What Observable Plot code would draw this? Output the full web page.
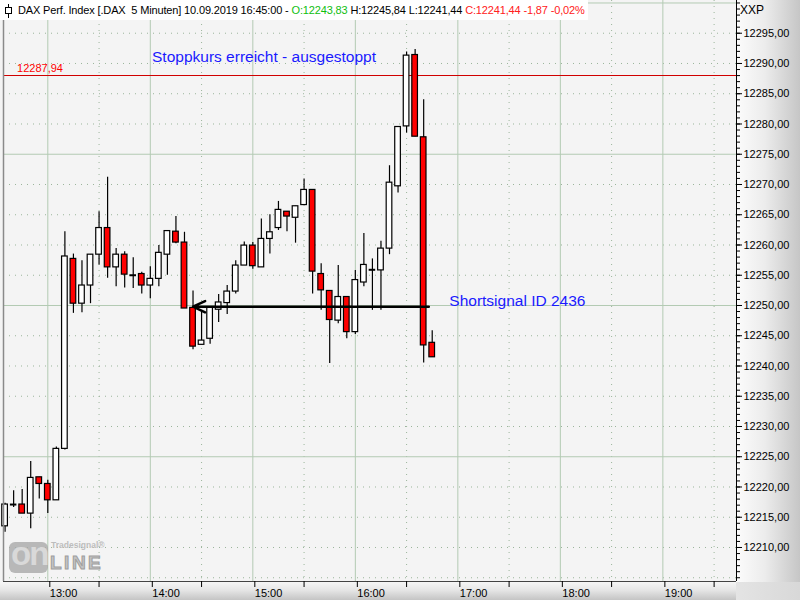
<!DOCTYPE html>
<html><head><meta charset="utf-8">
<script src="https://cdn.jsdelivr.net/npm/d3@7"></script>
<script src="https://cdn.jsdelivr.net/npm/@observablehq/plot@0.6"></script>
<style>
body{margin:0;background:#fff;}
#wrap{position:relative;width:800px;height:600px;overflow:hidden;font-family:"Liberation Sans",Arial,sans-serif;background:#f4f4f4;}
#rightPanel{position:absolute;left:736px;top:0;width:64px;height:582px;background:linear-gradient(to right,#fcfcfc,#ececec 45%,#c6c6c6);}
#bottomPanel{position:absolute;left:0;top:582px;width:736px;height:18px;background:linear-gradient(to bottom,#f6f6f6,#e6e6e6 45%,#c4c4c4);}
#corner{position:absolute;left:736px;top:582px;width:64px;height:18px;background:linear-gradient(to right,#e4e4e4,#d8d8d8);}
#chart{position:absolute;left:0;top:0;}
#header{position:absolute;left:0;top:0;height:20px;background:#fff;font-size:11px;letter-spacing:-0.15px;line-height:20px;white-space:pre;padding-left:18px;padding-right:3px;color:#000;}
#xxp{position:absolute;left:740px;top:3px;font-size:12px;color:#000;}
#icon{position:absolute;left:3px;top:4px;}
#logo{position:absolute;left:9px;top:542px;width:39px;height:31px;background:#a9a9a9;border-radius:6px;opacity:.8;}
#logoOn{position:absolute;left:11px;top:534px;font-size:33px;font-weight:bold;color:#d9d9d9;letter-spacing:-2px;line-height:40px;}
#logoLine{position:absolute;left:50px;top:553px;font-size:19px;font-weight:bold;color:#c4c4c4;letter-spacing:2.5px;line-height:19px;-webkit-text-stroke:1px #9e9e9e;}
#logoTs{position:absolute;left:51px;top:541px;font-size:8.5px;font-weight:bold;color:#bdbdbd;line-height:9px;}
</style></head>
<body>
<div id="wrap">
  <div id="rightPanel"></div>
  <div id="bottomPanel"></div>
  <div id="corner"></div>
  <div id="chart"></div>
  <div id="logo"></div>
  <div id="logoOn">on</div>
  <div id="logoTs">Tradesignal®</div>
  <div id="logoLine">LINE</div>
  <div id="header"></div>
  <svg id="icon" width="12" height="14"><line x1="5.5" y1="0" x2="5.5" y2="14" stroke="#000"/><rect x="2.5" y="3.5" width="6" height="6" fill="#fff" stroke="#000"/></svg>
  <div id="xxp">XXP</div>
</div>
<script>
// ---- data ----
const times = ["12:35","12:40","12:45","12:50","12:55","13:00","13:05","13:10","13:15","13:20","13:25","13:30","13:35","13:40","13:45","13:50","13:55","14:00","14:05","14:10","14:15","14:20","14:25","14:30","14:35","14:40","14:45","14:50","14:55","15:00","15:05","15:10","15:15","15:20","15:25","15:30","15:35","15:40","15:45","15:50","15:55","16:00","16:05","16:10","16:15","16:20","16:25","16:30","16:35","16:40","16:45"];
const opens  = [12213.5,12217.1,12217.1,12215.6,12221.6,12220.5,12217.8,12226.3,12257.7,12250.3,12253.3,12258.4,12262.8,12256.3,12258.4,12255.0,12255.2,12253.3,12254.4,12258.4,12262.2,12260.4,12249.6,12243.5,12244.5,12249.3,12250.4,12252.3,12256.6,12259.9,12256.3,12261.0,12262.8,12265.5,12264.5,12266.6,12269.1,12255.2,12252.4,12247.5,12251.4,12245.6,12253.8,12255.9,12255.8,12259.4,12269.7,12279.6,12291.4,12277.8,12243.83];
const highs  = [12217.3,12219.4,12219.6,12224.2,12221.6,12221.1,12226.6,12262.2,12258.5,12257.4,12258.4,12265.5,12271.2,12259.4,12258.9,12257.9,12255.5,12256.4,12259.9,12262.3,12264.7,12262.1,12252.4,12248.9,12249.6,12251.8,12253.3,12257.4,12260.5,12260.4,12264.3,12265.0,12267.2,12265.5,12266.4,12270.9,12269.1,12256.9,12252.4,12256.6,12251.4,12255.8,12261.9,12257.7,12260.6,12273.1,12279.5,12291.9,12292.3,12284.0,12245.84];
const lows   = [12212.5,12216.6,12215.6,12213.1,12218.0,12215.6,12217.8,12226.1,12248.7,12248.8,12250.3,12256.7,12254.5,12253.1,12252.9,12252.8,12251.9,12251.1,12253.1,12255.0,12260.2,12249.5,12242.7,12243.5,12243.6,12247.2,12248.5,12251.9,12256.6,12256.0,12256.3,12258.5,12262.4,12262.2,12260.3,12266.5,12251.9,12249.2,12240.4,12247.0,12244.5,12245.2,12253.1,12249.2,12249.2,12258.4,12268.6,12278.5,12277.9,12240.5,12241.44];
const closes = [12217.1,12217.1,12215.6,12221.5,12220.5,12217.8,12226.3,12258.1,12250.3,12253.3,12258.4,12262.8,12256.3,12258.4,12255.1,12255.0,12253.3,12254.4,12258.7,12262.3,12260.4,12249.5,12243.2,12244.2,12249.6,12250.5,12252.3,12256.6,12259.9,12256.5,12261.0,12262.1,12265.8,12264.7,12266.4,12269.1,12255.6,12252.5,12247.6,12251.4,12245.6,12254.2,12256.7,12255.9,12259.4,12270.3,12279.5,12291.3,12277.9,12243.4,12241.44];

const yTickLabels = [12210,12215,12220,12225,12230,12235,12240,12245,12250,12255,12260,12265,12270,12275,12280,12285,12290,12295];
const hourTicks = ["13:00","14:00","15:00","16:00","17:00","18:00","19:00"];
const halfHourTicks = ["12:30","13:30","14:30","15:30","16:30","17:30","18:30","19:30"];
const solidPriceLines = [12225,12250,12275,12300];
const stopPrice = 12287.94;
const stopLabel = "12287,94";
const signalPrice = 12249.8;
const signalFrom = "16:43";
const signalTo = "14:25";
const stopText = "Stoppkurs erreicht - ausgestoppt";
const signalText = "Shortsignal ID 2436";

// ---- build ----
const toMin = s => { const [h, m] = s.split(":").map(Number); return h * 60 + m; };
const fmtMin = v => `${Math.floor(v / 60)}:${String(v % 60).padStart(2, "0")}`;
const candles = times.map((t, i) => ({t: toMin(t), open: opens[i], high: highs[i], low: lows[i], close: closes[i]}));
const bodies = candles.filter(d => d.open !== d.close);
const dojis = candles.filter(d => d.open === d.close);
const dottedPrices = d3.range(12205, 12301, 5).filter(v => v % 25 !== 0);
const minorPrices = d3.range(12205, 12301, 1);
const fmtPrice = v => v.toFixed(2).replace(".", ",");

const header = document.getElementById("header");
header.innerHTML = 'DAX Perf. Index [.DAX  5 Minuten] 10.09.2019 16:45:00 - <span style="color:#10c010">O:12243,83</span> H:12245,84 L:12241,44 <span style="color:#ff2020">C:12241,44 -1,87 -0,02%</span>';

const gridSolid = "#b3cab3";
const gridDot = "#9bb59b";

const chart = Plot.plot({
  width: 800, height: 600,
  marginLeft: 3, marginRight: 64, marginTop: 0, marginBottom: 19,
  style: {background: "transparent", fontFamily: "'Liberation Sans', Arial, sans-serif", color: "#000"},
  x: {type: "linear", domain: [754.07, 1183.1], axis: null},
  y: {domain: [12204.38, 12300.41], axis: null},
  marks: [
    Plot.frame({fill: "#f4f4f4"}),
    Plot.ruleY(dottedPrices, {stroke: gridDot, strokeDasharray: "1,5"}),
    Plot.ruleX(halfHourTicks.map(toMin), {stroke: gridDot, strokeDasharray: "1,5"}),
    Plot.ruleY(solidPriceLines, {stroke: gridSolid}),
    Plot.ruleX(hourTicks.map(toMin), {stroke: gridSolid}),
    Plot.ruleY([stopPrice], {stroke: "#d00000", shapeRendering: "crispEdges"}),
    Plot.text([stopLabel], {x: toMin("12:42"), y: 12289.1, text: d => d, fill: "#ff0000", fontSize: 11, textAnchor: "start"}),
    Plot.ruleX(candles, {x: "t", y1: "low", y2: "high", stroke: "#000", strokeWidth: 1.2}),
    Plot.rect(bodies, {x1: d => d.t - 1.65, x2: d => d.t + 1.65, y1: "open", y2: "close",
      fill: d => d.close > d.open ? "#ffffff" : "#ff0000", stroke: "#000", strokeWidth: 1.2}),
    Plot.ruleY(dojis, {y: "open", x1: d => d.t - 1.9, x2: d => d.t + 1.9, stroke: "#000", strokeWidth: 2}),
    Plot.arrow([{}], {x1: toMin(signalFrom), x2: toMin(signalTo), y1: signalPrice, y2: signalPrice,
      stroke: "#000", strokeWidth: 2.5, headLength: 8, headAngle: 50}),
    Plot.text([stopText], {x: toMin("14:01"), y: 12291.0, text: d => d, fill: "#1a1aff", fontSize: 15.5, textAnchor: "start"}),
    Plot.text([signalText], {x: toMin("16:55"), y: 12250.8, text: d => d, fill: "#1a1aff", fontSize: 15.5, textAnchor: "start"}),
    Plot.ruleX([754.07], {stroke: "#8a8a8a", strokeWidth: 1.5}),
    Plot.ruleX([1183.1], {stroke: "#000"}),
    Plot.ruleY([12204.38], {stroke: "#444"}),
    Plot.axisY(yTickLabels, {anchor: "right", tickSize: 5, tickPadding: 2, tickFormat: fmtPrice, fontSize: 11, label: null, stroke: "#000"}),
    Plot.axisY(minorPrices, {anchor: "right", tickSize: 3, tickFormat: () => "", label: null, stroke: "#000"}),
    Plot.axisX(hourTicks.map(toMin), {anchor: "bottom", tickSize: 6, tickPadding: 2, tickFormat: fmtMin, fontSize: 11, textAnchor: "start", dx: 2, label: null, stroke: "#000"}),
    Plot.axisX(halfHourTicks.map(toMin), {anchor: "bottom", tickSize: 6, tickFormat: () => "", label: null, stroke: "#000"})
  ]
});
document.getElementById("chart").appendChild(chart);
</script>
</body></html>
